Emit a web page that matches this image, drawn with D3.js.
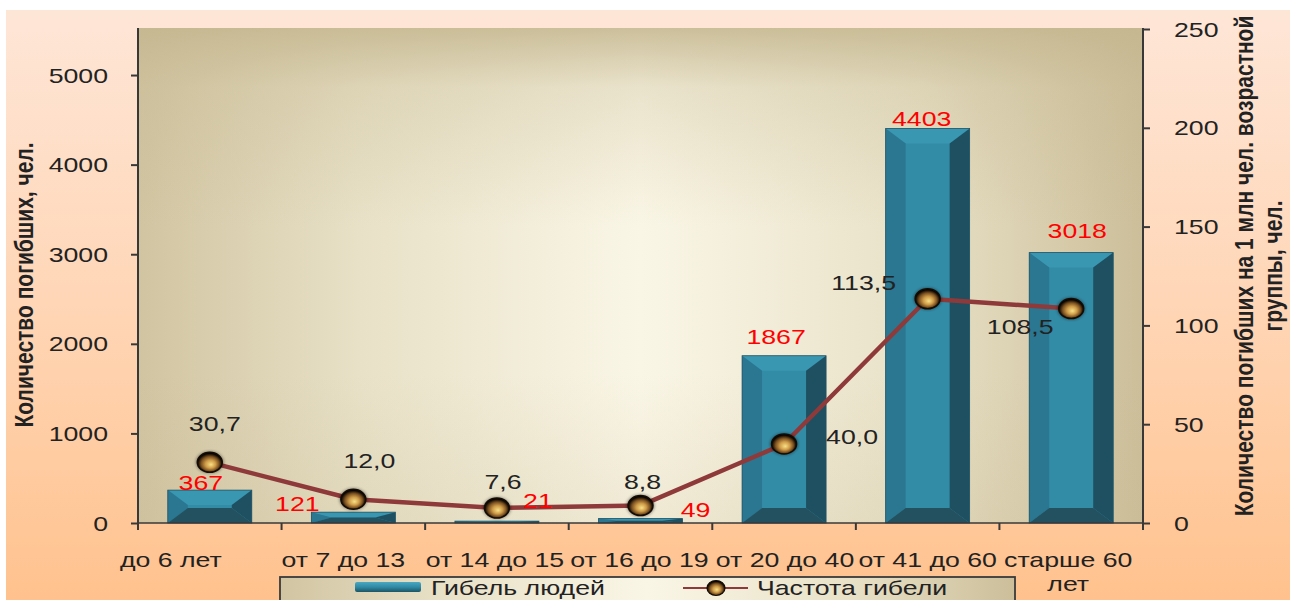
<!DOCTYPE html>
<html><head><meta charset="utf-8">
<script src="https://cdn.jsdelivr.net/npm/d3@7/dist/d3.min.js"></script>
<style>
html,body{margin:0;padding:0;background:#fff;}
svg{display:block;}
text{font-family:"Liberation Sans",Arial,sans-serif;}
</style></head>
<body>
<svg id="chart" width="1290" height="600"></svg>
<script>
// ---- data ----
const categories = ["до 6 лет","от 7 до 13","от 14 до 15","от 16 до 19","от 20 до 40","от 41 до 60","старше 60 лет"];
const deaths = [367,121,21,49,1867,4403,3018];
const rate = [30.7,12.0,7.6,8.8,40.0,113.5,108.5];
const leftTicks = [0,1000,2000,3000,4000,5000];
const rightTicks = [0,50,100,150,200,250];
const seriesNames = ["Гибель людей","Частота гибели"];
const leftTitle = "Количество погибших, чел.";
const rightTitleLines = ["Количество погибших на 1 млн чел. возрастной","группы, чел."];

// ---- label placement (layout only) ----
const barLabelOffset = [[-9,-8],[-56,-9],[41,-21],[55,-9],[-8,-19],[-6,-10],[6,-22]];
const rateLabelOffset = [[5,-39],[16,-39],[6,-26],[2,-24],[68,-7],[-64,-16],[-51,18]];
const catLabelDx = [-39,-10,-2,-1,1,0,-3];

const SX = 1.27; // horizontal stretch of the reference
const svg = d3.select("#chart");
const defs = svg.append("defs");

function grad(id, x2, y2, stops){
  const g = defs.append("linearGradient").attr("id",id).attr("x1",0).attr("y1",0).attr("x2",x2).attr("y2",y2);
  stops.forEach(s=>g.append("stop").attr("offset",s[0]).attr("stop-color",s[1]).attr("stop-opacity",s[2]==null?1:s[2]));
}
grad("bgGrad",0,1,[[0,"#fee6d7"],[0.5,"#ffd6b6"],[1,"#ffc28e"]]);
grad("plotH",1,0,[[0,"#d1c4a1"],[0.22,"#e8e1c7"],[0.5,"#faf6e6"],[0.78,"#e8e1c7"],[1,"#ccbe99"]]);
grad("plotV",0,1,[[0,"#c4b68e",0.85],[0.12,"#c4b68e",0.3],[0.4,"#c4b68e",0],[0.7,"#c4b68e",0],[1,"#c4b68e",0.2]]);
grad("legSw",0,1,[[0,"#4aa8c2"],[0.5,"#2f8aa5"],[1,"#1c5566"]]);
const rg = defs.append("radialGradient").attr("id","mk").attr("cx","50%").attr("cy","55%").attr("r","50%").attr("fx","55%").attr("fy","62%");
[[0,"#f8e088"],[0.4,"#cf9c48"],[0.72,"#7a5020"],[0.9,"#2a1a08"],[1,"#000"]].forEach(s=>rg.append("stop").attr("offset",s[0]).attr("stop-color",s[1]));
defs.append("filter").attr("id","blur").append("feGaussianBlur").attr("stdDeviation",1.5);

function txt(parent, x, y, s, o){
  o = o||{};
  return parent.append("text")
    .attr("transform",`translate(${x},${y}) scale(${SX},1)`+(o.rotate?" rotate(-90)":""))
    .attr("text-anchor",o.anchor||"middle")
    .style("font-size",(o.size||21)+"px")
    .style("font-weight",o.weight||"normal")
    .attr("fill",o.fill||"#222")
    .text(s);
}
const fmt = v => d3.format(".1f")(v).replace(".",",");

// ---- background ----
svg.append("rect").attr("x",6).attr("y",10).attr("width",1284).attr("height",590).attr("fill","url(#bgGrad)");

// ---- scales ----
const pL=138, pR=1143, pT=28, pB=523;
const x = d3.scaleBand().domain(categories).range([pL,pR]).padding(0);
const yL = d3.scaleLinear().domain([0,5525]).range([pB,pT]);
const yR = d3.scaleLinear().domain([0,250]).range([pB,pT+1]);
const bw = x.bandwidth()*0.585;
const cx = c => x(c)+x.bandwidth()/2;

// ---- plot area ----
svg.append("rect").attr("x",pL).attr("y",pT).attr("width",pR-pL).attr("height",pB-pT).attr("fill","url(#plotH)");
svg.append("rect").attr("x",pL).attr("y",pT).attr("width",pR-pL).attr("height",pB-pT).attr("fill","url(#plotV)");

// ---- bars (bevelled) ----
const gb = svg.append("g");
categories.forEach((c,i)=>{
  const x0 = cx(c)-bw/2, x1 = cx(c)+bw/2, y0 = yL(deaths[i]), y1 = yL(0);
  const h = y1-y0, d = Math.min(20,bw/2), dv = Math.min(15,h/2);
  const poly = (pts,fill)=>gb.append("polygon").attr("points",pts.map(p=>p.join(",")).join(" ")).attr("fill",fill);
  poly([[x0,y0],[x1,y0],[x1,y1],[x0,y1]],"#338ca6");
  poly([[x0,y0],[x1,y0],[x1-d,y0+dv],[x0+d,y0+dv]],"#3a97b1");
  poly([[x0,y0],[x0+d,y0+dv],[x0+d,y1-dv],[x0,y1]],"#2b7690");
  poly([[x1,y0],[x1-d,y0+dv],[x1-d,y1-dv],[x1,y1]],"#1e5061");
  poly([[x0,y1],[x0+d,y1-dv],[x1-d,y1-dv],[x1,y1]],"#23515f");
  gb.append("rect").attr("x",x0).attr("y",y0).attr("width",bw).attr("height",h).attr("fill","none").attr("stroke","#235566").attr("stroke-width",0.8);
});

// ---- axes ----
const ax = svg.append("g").attr("stroke","#383838").attr("stroke-width",2);
ax.append("line").attr("x1",pL).attr("x2",pL).attr("y1",pT).attr("y2",pB+7);
ax.append("line").attr("x1",pR).attr("x2",pR).attr("y1",pT).attr("y2",pB+7);
ax.append("line").attr("x1",pL).attr("x2",pR).attr("y1",pB).attr("y2",pB).attr("stroke-width",1.6);
svg.append("g").attr("transform",`translate(${pL},0)`).call(d3.axisLeft(yL).tickValues(leftTicks).tickSize(7).tickSizeOuter(0).tickFormat(""))
  .call(g=>{g.select(".domain").remove(); g.selectAll("line").attr("stroke","#383838").attr("stroke-width",2);});
svg.append("g").attr("transform",`translate(${pR},0)`).call(d3.axisRight(yR).tickValues(rightTicks).tickSize(7).tickSizeOuter(0).tickFormat(""))
  .call(g=>{g.select(".domain").remove(); g.selectAll("line").attr("stroke","#383838").attr("stroke-width",2);});
categories.slice(1).forEach(c=>{
  ax.append("line").attr("x1",x(c)).attr("x2",x(c)).attr("y1",pB).attr("y2",pB+7);
});
leftTicks.forEach(t=>txt(svg,108,yL(t)+7.5,t,{anchor:"end"}));
rightTicks.forEach(t=>txt(svg,1174,yR(t)+7.5,t,{anchor:"start"}));

// category labels
categories.forEach((c,i)=>{
  let lines=[c];
  if(c.length>11){const k=c.lastIndexOf(" ");lines=[c.slice(0,k),c.slice(k+1)];}
  lines.forEach((l,j)=>txt(svg,cx(c)+catLabelDx[i],567+j*24,l));
});

// axis titles
txt(svg,33,285,leftTitle,{rotate:true,weight:"bold"});
txt(svg,1253,266,rightTitleLines[0],{rotate:true,weight:"bold"});
txt(svg,1282,266,rightTitleLines[1],{rotate:true,weight:"bold"});

// ---- line ----
const line = d3.line().x((d,i)=>cx(categories[i])).y(d=>yR(d));
svg.append("path").datum(rate).attr("d",line).attr("fill","none").attr("stroke","#8f3a3a").attr("stroke-width",4.5).attr("stroke-linejoin","round");
const gm = svg.append("g");
rate.forEach((v,i)=>{
  const px=cx(categories[i]), py=yR(v);
  gm.append("ellipse").attr("cx",px).attr("cy",py).attr("rx",14).attr("ry",11).attr("fill","#000").attr("opacity",0.4).attr("filter","url(#blur)");
  gm.append("ellipse").attr("cx",px).attr("cy",py).attr("rx",12.5).attr("ry",10).attr("fill","url(#mk)").attr("stroke","#140c04").attr("stroke-width",1.5);
});

// ---- value labels ----
deaths.forEach((v,i)=>{
  const o=barLabelOffset[i];
  txt(svg,cx(categories[i])+o[0],yL(v)+o[1]+7.5,v,{fill:"#ff0000"});
});
rate.forEach((v,i)=>{
  const o=rateLabelOffset[i];
  txt(svg,cx(categories[i])+o[0],yR(v)+o[1]+7.5,fmt(v));
});

// ---- legend ----
const lg = svg.append("g");
lg.append("rect").attr("x",280).attr("y",577).attr("width",735).attr("height",40).attr("fill","url(#plotH)").attr("stroke","#3a3a3a").attr("stroke-width",1.8);
lg.append("rect").attr("x",355).attr("y",582).attr("width",66).attr("height",10).attr("rx",2).attr("fill","url(#legSw)");
txt(lg,431,595,seriesNames[0],{anchor:"start"});
lg.append("line").attr("x1",683).attr("x2",748).attr("y1",588).attr("y2",588).attr("stroke","#8f3a3a").attr("stroke-width",2);
lg.append("ellipse").attr("cx",716).attr("cy",588).attr("rx",9).attr("ry",7.5).attr("fill","url(#mk)").attr("stroke","#140c04").attr("stroke-width",1.2);
txt(lg,757,595,seriesNames[1],{anchor:"start"});
</script>
</body></html>
